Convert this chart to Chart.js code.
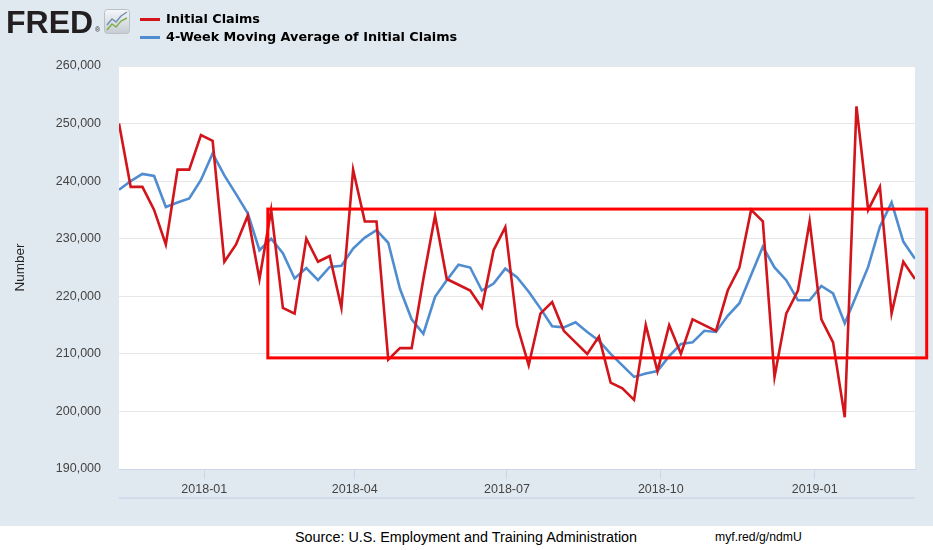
<!DOCTYPE html>
<html>
<head>
<meta charset="utf-8">
<script src="https://cdn.jsdelivr.net/npm/chart.js@4.4.1/dist/chart.umd.min.js"></script>
<style>
html,body{margin:0;padding:0;background:#ffffff;}
#wrap{position:relative;width:933px;height:550px;overflow:hidden;font-family:"Liberation Sans",Arial,sans-serif;}
#panel{position:absolute;left:0;top:0;width:933px;height:526px;background:#e1e9f0;}
#cv{position:absolute;left:0;top:0;}
.fred{position:absolute;left:6px;top:6px;font:bold 32px/32px "Liberation Sans",Arial,sans-serif;color:#231f20;letter-spacing:0px;}
.reg{position:absolute;left:95px;top:26px;font:7px/7px "Liberation Sans",Arial,sans-serif;color:#231f20;}
.lgline{position:absolute;left:140px;width:20px;height:3px;}
.lgtext{position:absolute;left:166px;height:16px;font:bold 12.8px/16px "DejaVu Sans",Verdana,sans-serif;color:#000;white-space:nowrap;}
.foot{position:absolute;top:529px;height:16px;font:14.35px/16px "Liberation Sans",Arial,sans-serif;color:#000;white-space:nowrap;}
</style>
</head>
<body>
<div id="wrap">
  <div id="panel"><canvas id="cv" width="933" height="526"></canvas></div>
  <div class="fred">FRED</div><div class="reg">®</div>
  <svg width="26" height="25" style="position:absolute;left:104px;top:9px">
    <defs><linearGradient id="g" x1="0" y1="0" x2="0" y2="1"><stop offset="0" stop-color="#f5f7f9"/><stop offset="1" stop-color="#c6ccd2"/></linearGradient></defs>
    <rect x="0.5" y="0.5" width="25" height="24" rx="3" fill="url(#g)" stroke="#b9c0c6"/>
    <polyline points="3,16 8,10 12,13 17,7 23,3" fill="none" stroke="#6f8fb3" stroke-width="1.4"/>
    <polyline points="3,21 8,15 12,18 17,12 23,9" fill="none" stroke="#7dae48" stroke-width="1.4"/>
  </svg>
  <div class="lgline" id="lg0" style="top:18px;"></div>
  <div class="lgtext" id="lt0" style="top:11px;"></div>
  <div class="lgline" id="lg1" style="top:35.5px;"></div>
  <div class="lgtext" id="lt1" style="top:29px;"></div>
  <div class="foot" style="left:295px;">Source: U.S. Employment and Training Administration</div>
  <div class="foot" style="left:715px;font-size:12.2px;">myf.red/g/ndmU</div>
</div>
<script>
// ---- data ----
const weekEnding = [
  '2017-11-11','2017-11-18','2017-11-25','2017-12-02','2017-12-09','2017-12-16','2017-12-23','2017-12-30',
  '2018-01-06','2018-01-13','2018-01-20','2018-01-27','2018-02-03','2018-02-10','2018-02-17','2018-02-24',
  '2018-03-03','2018-03-10','2018-03-17','2018-03-24','2018-03-31','2018-04-07','2018-04-14','2018-04-21',
  '2018-04-28','2018-05-05','2018-05-12','2018-05-19','2018-05-26','2018-06-02','2018-06-09','2018-06-16',
  '2018-06-23','2018-06-30','2018-07-07','2018-07-14','2018-07-21','2018-07-28','2018-08-04','2018-08-11',
  '2018-08-18','2018-08-25','2018-09-01','2018-09-08','2018-09-15','2018-09-22','2018-09-29','2018-10-06',
  '2018-10-13','2018-10-20','2018-10-27','2018-11-03','2018-11-10','2018-11-17','2018-11-24','2018-12-01',
  '2018-12-08','2018-12-15','2018-12-22','2018-12-29','2019-01-05','2019-01-12','2019-01-19','2019-01-26',
  '2019-02-02','2019-02-09','2019-02-16','2019-02-23','2019-03-02'
];
const initialClaims = [
  250000,239000,239000,235000,229000,242000,242000,248000,
  247000,226000,229000,234000,223000,235000,218000,217000,
  230000,226000,227000,218000,242000,233000,233000,209000,
  211000,211000,223000,234000,223000,222000,221000,218000,
  228000,232000,215000,208000,217000,219000,214000,212000,
  210000,213000,205000,204000,202000,215000,207000,215000,
  210000,216000,215000,214000,221000,225000,235000,233000,
  206000,217000,221000,233000,216000,212000,199000,253000,
  235000,239000,217000,226000,223000
];
const movingAverage4Wk = [
  238500,240000,241250,240900,235500,236300,237000,240200,
  244800,241000,237750,234400,228000,230000,227500,223100,
  224900,222800,225100,225300,228300,230200,231500,229300,
  221300,216000,213500,219900,222800,225500,225000,221000,
  222200,224800,223300,220800,217900,214800,214600,215500,
  213800,212300,210000,208000,206000,206600,207000,209600,
  211700,212000,214000,213800,216600,218800,223700,228600,
  225000,222800,219300,219300,221800,220500,215300,220200,
  225100,232100,236300,229500,226500
];
const seriesNames = ['Initial Claims','4-Week Moving Average of Initial Claims'];
const xTickDates = ['2018-01-01','2018-04-01','2018-07-01','2018-10-01','2019-01-01'];
const xTickLabels = ['2018-01','2018-04','2018-07','2018-10','2019-01'];
const yMin = 190000, yMax = 260000, yStep = 10000;
// highlighted range annotation (drawn on the chart in the reference)
const boxFrom = '2018-02-08', boxTo = '2019-03-09', boxHigh = 235150, boxLow = 209300;

// ---- helpers ----
const toDay = s => { const [y,m,d] = s.split('-').map(Number); return Date.UTC(y, m-1, d) / 86400000; };
const RED = '#d2141b', BLUE = '#4f8dd0';

document.getElementById('lg0').style.background = RED;
document.getElementById('lg1').style.background = BLUE;
document.getElementById('lt0').textContent = seriesNames[0];
document.getElementById('lt1').textContent = seriesNames[1];

const deco = {
  id: 'deco',
  beforeDraw(chart) {
    const {ctx, chartArea: a} = chart;
    ctx.save();
    ctx.fillStyle = '#ffffff';
    ctx.fillRect(a.left, a.top, a.right - a.left, a.bottom - a.top);
    ctx.strokeStyle = '#ccd6eb';
    ctx.lineWidth = 1.5;
    ctx.beginPath();
    ctx.moveTo(a.left, a.bottom + 29);
    ctx.lineTo(a.right, a.bottom + 29);
    ctx.stroke();
    ctx.restore();
  },
  afterDraw(chart) {
    const {ctx} = chart;
    const xs = chart.scales.x, ys = chart.scales.y;
    const x0 = xs.getPixelForValue(toDay(boxFrom)), x1 = xs.getPixelForValue(toDay(boxTo));
    const y0 = ys.getPixelForValue(boxHigh), y1 = ys.getPixelForValue(boxLow);
    ctx.save();
    ctx.strokeStyle = '#ff0000';
    ctx.lineWidth = 3;
    ctx.strokeRect(x0, y0, x1 - x0, y1 - y0);
    ctx.restore();
  }
};

const pts = vals => weekEnding.map((d, i) => ({x: toDay(d), y: vals[i]}));

new Chart(document.getElementById('cv'), {
  type: 'line',
  data: {
    datasets: [
      {label: seriesNames[0], data: pts(initialClaims), borderColor: RED, borderWidth: 2.6, pointRadius: 0, tension: 0, fill: false},
      {label: seriesNames[1], data: pts(movingAverage4Wk), borderColor: BLUE, borderWidth: 2.6, pointRadius: 0, tension: 0, fill: false}
    ]
  },
  options: {
    responsive: false,
    animation: false,
    events: [],
    layout: {padding: {top: 66, right: 18, left: 0, bottom: 0}},
    plugins: {legend: {display: false}, tooltip: {enabled: false}},
    scales: {
      x: {
        type: 'linear',
        min: toDay(weekEnding[0]),
        max: toDay(weekEnding[weekEnding.length - 1]),
        afterBuildTicks: s => { s.ticks = xTickDates.map(d => ({value: toDay(d)})); },
        afterFit: s => { s.height = 57; },
        ticks: {autoSkip: false, maxRotation: 0, padding: 3, color: '#444',
                font: {family: '"Liberation Sans", Arial, sans-serif', size: 12.5},
                callback: (v, i) => xTickLabels[i]},
        grid: {drawOnChartArea: false, color: '#ccd6eb', tickLength: 10},
        border: {color: '#ccd6eb', width: 1}
      },
      y: {
        min: yMin, max: yMax,
        afterFit: s => { s.width = 119; },
        ticks: {stepSize: yStep, padding: 18, color: '#444',
                font: {family: '"Liberation Sans", Arial, sans-serif', size: 12.5},
                callback: v => v.toLocaleString('en-US')},
        grid: {color: '#e6e6e6', drawTicks: false, tickLength: 0},
        border: {display: false},
        title: {display: true, text: 'Number', color: '#222',
                font: {family: '"Liberation Sans", Arial, sans-serif', size: 13.5},
                padding: {top: 12, bottom: 0}}
      }
    }
  },
  plugins: [deco]
});
</script>
</body>
</html>
